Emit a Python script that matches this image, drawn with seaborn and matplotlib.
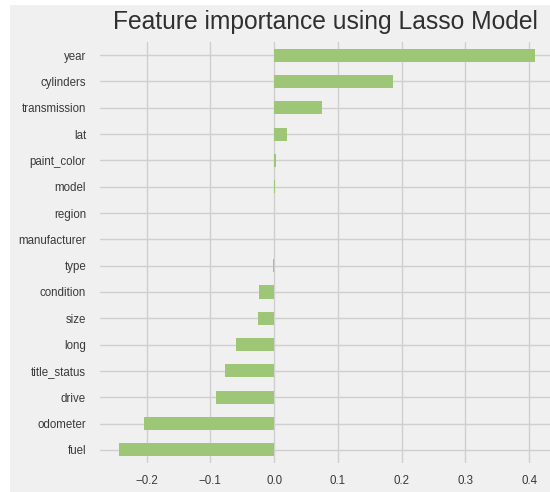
import matplotlib
matplotlib.use('Agg')
import matplotlib.pyplot as plt
import seaborn as sns
import pandas as pd
from matplotlib.patches import Rectangle

# coeficientes do modelo Lasso
features = ['year', 'cylinders', 'transmission', 'lat', 'paint_color', 'model',
            'region', 'manufacturer', 'type', 'condition', 'size', 'long',
            'title_status', 'drive', 'odometer', 'fuel']
coefs = [0.409, 0.186, 0.0757, 0.020, 0.003, 0.001,
         0.0, 0.0, -0.001, -0.0235, -0.025, -0.0595,
         -0.077, -0.0914, -0.204, -0.2425]
xticks = [-0.2, -0.1, 0.0, 0.1, 0.2, 0.3, 0.4]

df = pd.DataFrame({'feature': features, 'coef': coefs})

sns.set_style('whitegrid')
plt.rcParams['font.family'] = ['Liberation Sans', 'DejaVu Sans']

fig = plt.figure(figsize=(5.5, 4.92), dpi=100, facecolor='white')
# fundo cinza estilo fivethirtyeight
fig.patches.append(Rectangle((10 / 550, 0), 1, 1 - 5 / 492, transform=fig.transFigure,
                             facecolor='#f0f0f0', edgecolor='none', zorder=-1))
ax = fig.add_axes([100 / 550, 1 - 463 / 492, 450 / 550, 421 / 492])
ax.set_facecolor('#f0f0f0')

sns.barplot(data=df, x='coef', y='feature', order=features, color='#9dc677',
            saturation=1, width=0.5, linewidth=0, ax=ax)

ax.set_xlim(-0.273, 0.4326)
ax.set_xticks(xticks)
ax.set_xticklabels(['\u22120.2', '\u22120.1', '0.0', '0.1', '0.2', '0.3', '0.4'])
ax.grid(True, color='#cfcfcf', linewidth=1)
ax.set_axisbelow(True)
for s in ax.spines.values():
    s.set_visible(False)
ax.tick_params(axis='both', length=0, labelsize=8.3, colors='#3a3a3a')
ax.tick_params(axis='y', pad=10)
ax.tick_params(axis='x', pad=9)
ax.set_xlabel('')
ax.set_ylabel('')
ax.set_title('Feature importance using Lasso Model', fontsize=17.7, color='#303030', pad=9)

fig.savefig('out.png', dpi=100, facecolor='white')
